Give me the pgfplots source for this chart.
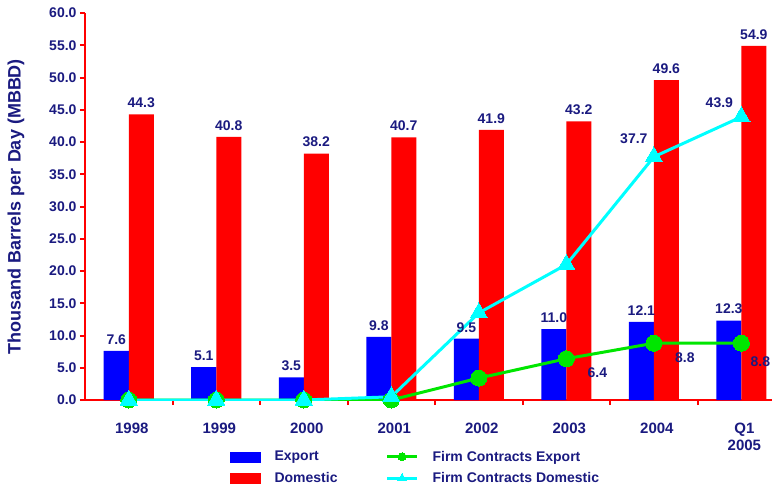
\documentclass[border=0pt]{standalone}
\usepackage{pgfplots}
\pgfplotsset{compat=1.18}
\usepackage{fontspec}
\setmainfont{Liberation Sans}
\definecolor{navy}{RGB}{26,26,128}
\definecolor{fcgreen}{RGB}{0,230,0}
\definecolor{fccyan}{RGB}{0,255,255}
\newcommand{\lbl}{\fontsize{14}{16}\selectfont\bfseries\color{navy}}
\newcommand{\xlbl}{\fontsize{15}{17}\selectfont\bfseries\color{navy}}
\pgfplotsset{
  mylinelegend/.style={legend image code/.code={\draw[##1, mark repeat=2, mark phase=2] plot coordinates {(0pt,0pt) (15pt,0pt) (30pt,0pt)};}},
  bluebox/.style={legend image code/.code={\fill[blue] (0pt,-5pt) rectangle (30pt,5pt);}},
  redbox/.style={legend image code/.code={\fill[red] (0pt,-5pt) rectangle (30pt,5pt);}},
}
\begin{document}
\begin{tikzpicture}
\path[use as bounding box] (-85pt,-91pt) rectangle (689pt,400pt);
\begin{axis}[
  at={(0pt,0pt)}, anchor=south west,
  scale only axis, width=687pt, height=387pt,
  xmin=-0.5, xmax=7.35, ymin=0, ymax=60,
  axis x line*=bottom, axis y line*=left,
  axis line style={red, line width=2pt, -},
  tick align=outside,
  major tick length=5pt,
  tick style={red, line width=2pt},
  xtick={0.5,1.5,...,6.5},
  xticklabels={},
  extra x ticks={0,1,2,3,4,5,6,7},
  extra x tick labels={1998,1999,2000,2001,2002,2003,2004,{Q1\\2005}},
  extra x tick style={major tick length=0pt},
  xticklabel style={align=center, font=\xlbl, yshift=-19pt, xshift=3pt},
  ytick={0,5,...,60},
  yticklabel style={font=\lbl, /pgf/number format/fixed, /pgf/number format/fixed zerofill, /pgf/number format/precision=1, /pgf/number format/assume math mode=true},
  ylabel={Thousand Barrels per Day (MBBD)},
  ylabel style={at={(axis description cs:-0.1004,0.5)}, anchor=center, font=\fontsize{18}{20}\selectfont\bfseries\color{navy}},
  legend columns=2,
  legend cell align=left,
  legend style={at={(axis description cs:0.211,-0.126)}, anchor=north west, draw=none, fill=none, font=\lbl, inner sep=0pt, row sep=6pt,
    /tikz/every odd column/.append style={column sep=12pt},
    /tikz/every even column/.append style={column sep=46pt}},
  nodes near coords style={font=\lbl, /pgf/number format/fixed, /pgf/number format/fixed zerofill, /pgf/number format/precision=1, /pgf/number format/assume math mode=true, yshift=3pt},
]
\addplot[ybar, bar width=0.286, bar shift=-0.143, fill=blue, draw=none, nodes near coords, every node near coord/.append style={xshift=-12.5pt}, forget plot]
  coordinates {(0,7.6) (1,5.1) (2,3.5) (3,9.8) (4,9.5) (5,11.0) (6,12.1) (7,12.3)};
\addplot[ybar, bar width=0.286, bar shift=0.143, fill=red, draw=none, nodes near coords, every node near coord/.append style={xshift=12.5pt}, forget plot]
  coordinates {(0,44.3) (1,40.8) (2,38.2) (3,40.7) (4,41.9) (5,43.2) (6,49.6) (7,54.9)};
\addplot[fcgreen, line width=3pt, mark=*, mark size=8pt, mark options={fill=fcgreen, draw=fcgreen, line width=0pt}, forget plot]
  coordinates {(0,0) (1,0) (2,0) (3,0) (4,3.4) (5,6.4) (6,8.8) (7,8.8)};
\addplot[fccyan, line width=3pt, mark=triangle*, mark size=10pt, mark options={fill=fccyan, draw=fccyan, line width=0pt}, forget plot]
  coordinates {(0,0) (1,0) (2,0) (3,0.5) (4,13.5) (5,21.0) (6,37.7) (7,43.9)};
\node[font=\lbl, xshift=31pt, yshift=-14pt] at (axis cs:5,6.4) {6.4};
\node[font=\lbl, xshift=31pt, yshift=-14pt] at (axis cs:6,8.8) {8.8};
\node[font=\lbl, xshift=19pt, yshift=-18pt] at (axis cs:7,8.8) {8.8};
\node[font=\lbl, xshift=-20pt, yshift=18pt] at (axis cs:6,37.7) {37.7};
\node[font=\lbl, xshift=-22pt, yshift=14pt] at (axis cs:7,43.9) {43.9};
\addlegendimage{bluebox}
\addlegendentry{Export}
\addlegendimage{fcgreen, line width=3pt, mark=*, mark size=4pt, mark options={fill=fcgreen, draw=fcgreen, line width=0pt}, mylinelegend}
\addlegendentry{Firm Contracts Export}
\addlegendimage{redbox}
\addlegendentry{Domestic}
\addlegendimage{fccyan, line width=3pt, mark=triangle*, mark size=5pt, mark options={fill=fccyan, draw=fccyan, line width=0pt}, mylinelegend}
\addlegendentry{Firm Contracts Domestic}
\end{axis}
\end{tikzpicture}
\end{document}
